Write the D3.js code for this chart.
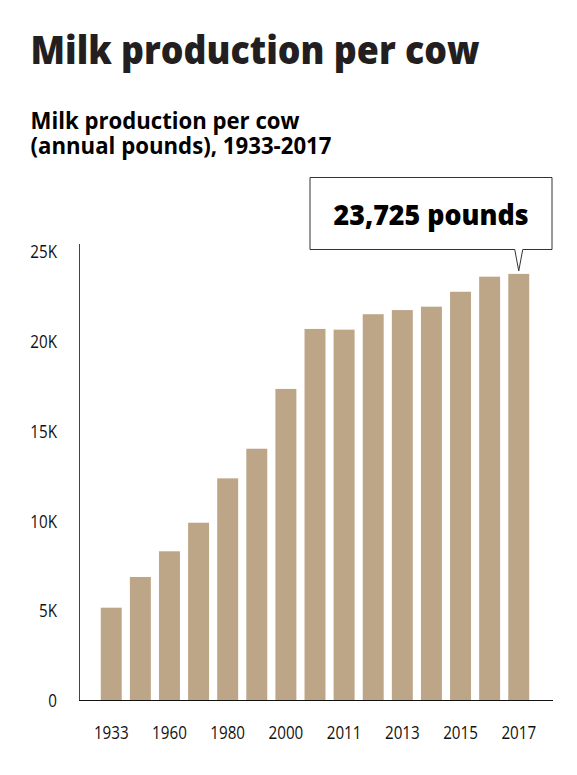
<!DOCTYPE html>
<html>
<head>
<meta charset="utf-8">
<script src="https://cdn.jsdelivr.net/npm/d3@7/dist/d3.min.js"></script>
<style>
  html, body { margin: 0; padding: 0; background: #ffffff; }
  svg { display: block; }
</style>
</head>
<body>
<svg id="chart" width="577" height="775"></svg>
<script>
// ---- Data ----
const years = ["1933","1950","1960","1970","1980","1990","2000","2010","2011","2012","2013","2014","2015","2016","2017"];
const pounds = [5140, 6850, 8280, 9870, 12340, 13990, 17320, 20660, 20620, 21480, 21710, 21900, 22730, 23570, 23725];
const yTicks = [0, 5000, 10000, 15000, 20000, 25000];
const yTickLabels = ["0", "5K", "10K", "15K", "20K", "25K"];
const xTickLabels = ["1933","1960","1980","2000","2011","2013","2015","2017"];
const titleText = "Milk production per cow";
const subtitleLines = ["Milk production per cow", "(annual pounds), 1933-2017"];
const calloutYear = "2017";
const calloutText = "23,725 pounds";

const FONT = "'Open Sans', 'Noto Sans', sans-serif";
const BAR = "#bda587";

const svg = d3.select("#chart");

function fitWidth(sel, target) {
  sel.each(function () {
    const L = this.getComputedTextLength();
    const t = typeof target === "function" ? target(L) : target;
    this.setAttribute("textLength", t);
    this.setAttribute("lengthAdjust", "spacingAndGlyphs");
  });
}

// ---- Titles ----
svg.append("text")
  .attr("x", 30.5).attr("y", 63.5)
  .attr("font-family", FONT).attr("font-weight", 800)
  .attr("font-size", 39).attr("fill", "#231f20")
  .text(titleText)
  .call(fitWidth, 449);

const subWidths = [269, 301];
const sub = svg.append("text")
  .attr("font-family", FONT).attr("font-weight", 700)
  .attr("font-size", 23).attr("fill", "#000");
subtitleLines.forEach((s, i) => {
  sub.append("tspan")
    .attr("x", 30.5).attr("y", 128.5 + i * 25)
    .text(s)
    .call(fitWidth, subWidths[i]);
});

// ---- Scales ----
const x = d3.scaleBand()
  .domain(years)
  .range([96.7, 533.3])
  .paddingInner(0.28)
  .paddingOuter(0.14);

const y = d3.scaleLinear()
  .domain([0, 25000])
  .range([700, 251]);

// ---- Bars ----
svg.append("g")
  .selectAll("rect")
  .data(years.map((yr, i) => ({ yr, v: pounds[i] })))
  .join("rect")
  .attr("x", d => x(d.yr))
  .attr("width", x.bandwidth())
  .attr("y", d => y(d.v))
  .attr("height", d => y(0) - y(d.v))
  .attr("fill", BAR);

// ---- Y axis ----
const yAxis = d3.axisLeft(y)
  .tickValues(yTicks)
  .tickFormat((d, i) => yTickLabels[i])
  .tickSize(0)
  .tickPadding(22);

const gy = svg.append("g")
  .attr("transform", "translate(79,0)")
  .call(yAxis);
gy.select(".domain").remove();
gy.selectAll("text")
  .attr("font-family", FONT)
  .attr("font-size", 18.5)
  .attr("fill", "#111")
  .attr("dy", "0.36em")
  .call(fitWidth, L => L * 0.82);

svg.append("line")
  .attr("x1", 79.5).attr("x2", 79.5)
  .attr("y1", y(0)).attr("y2", y(25000) - 7)
  .attr("stroke", "#444").attr("stroke-width", 1);

// ---- X axis ----
const xAxis = d3.axisBottom(x)
  .tickValues(xTickLabels)
  .tickSize(0)
  .tickPadding(0);

const gx = svg.append("g")
  .attr("transform", `translate(0,${y(0)})`)
  .call(xAxis);
gx.select(".domain").remove();
gx.selectAll("text")
  .attr("font-family", FONT)
  .attr("font-size", 18.5)
  .attr("fill", "#111")
  .attr("y", 38.5)
  .attr("dy", 0)
  .call(fitWidth, L => L * 0.82);

svg.append("line")
  .attr("x1", 79).attr("x2", 553)
  .attr("y1", y(0) + 0.5).attr("y2", y(0) + 0.5)
  .attr("stroke", "#111").attr("stroke-width", 1);

// ---- Callout ----
const cIdx = years.indexOf(calloutYear);
const px = x(calloutYear) + x.bandwidth() / 2;
const py = y(pounds[cIdx]) - 3;
const bx0 = 310, bx1 = 552, by0 = 177.5, by1 = 249.5;
svg.append("path")
  .attr("d", `M${bx0},${by0}H${bx1}V${by1}H${px + 4}L${px},${py}L${px - 4},${by1}H${bx0}Z`)
  .attr("fill", "#fff")
  .attr("stroke", "#333")
  .attr("stroke-width", 1);

svg.append("text")
  .attr("x", (bx0 + bx1) / 2).attr("y", 225)
  .attr("text-anchor", "middle")
  .attr("font-family", FONT).attr("font-weight", 800)
  .attr("font-size", 28).attr("fill", "#000")
  .text(calloutText)
  .call(fitWidth, 195);
</script>
</body>
</html>
